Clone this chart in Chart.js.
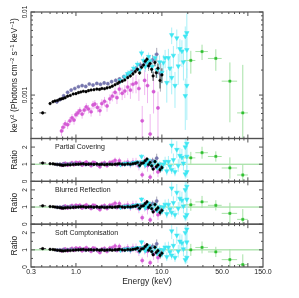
<!DOCTYPE html>
<html>
<head>
<meta charset="utf-8">
<script src="https://cdn.jsdelivr.net/npm/chart.js@4.4.1/dist/chart.umd.min.js"></script>
<style>
  html, body { margin: 0; padding: 0; background: #fff; }
  canvas { display: block; }
</style>
</head>
<body>
<canvas id="spec" width="299" height="298"></canvas>
<script>
// energies (keV), fluxes keV^2 F(E), errors and data/model ratios
const blackLowE = [0.41];
const blackLowLo = [0.375];
const blackLowHi = [0.45];
const blackLowF = [6.1e-4];
const blackLowErr = [2e-5];
const blackLowR = [1.07];

const blackE = [0.50,0.54,0.57,0.61,0.65,0.68,0.71,0.75,0.80,0.86,
  0.93,1.00,1.07,1.14,1.22,1.31,1.40,1.50,1.62,1.75,
  1.88,2.00,2.15,2.30,2.48,2.65,2.85,3.05,3.20,3.45,
  3.70,4.00,4.30,4.60,4.90,5.20,5.50,5.80,6.10,6.40,
  6.70,7.00,7.30,7.60,7.90,8.30,8.60,9.00,9.50,10.0];
const blackF = [7.9e-4,8.3e-4,8.5e-4,8.6e-4,8.9e-4,9.0e-4,9.1e-4,9.3e-4,9.7e-4,9.9e-4,
  1.03e-3,1.04e-3,1.07e-3,1.09e-3,1.11e-3,1.10e-3,1.13e-3,1.15e-3,1.16e-3,1.18e-3,
  1.17e-3,1.20e-3,1.19e-3,1.22e-3,1.24e-3,1.28e-3,1.33e-3,1.38e-3,1.43e-3,1.47e-3,
  1.52e-3,1.62e-3,1.70e-3,1.80e-3,1.92e-3,2.04e-3,1.85e-3,2.16e-3,2.30e-3,2.55e-3,
  2.70e-3,2.25e-3,2.40e-3,2.04e-3,1.70e-3,2.47e-3,1.86e-3,2.10e-3,1.50e-3,1.75e-3];
const blackErr = [2.5e-5,2.5e-5,2.5e-5,2.5e-5,2.5e-5,2.5e-5,2.5e-5,2.5e-5,2.5e-5,2.5e-5,
  2.5e-5,2.5e-5,2.5e-5,2.5e-5,2.5e-5,2.5e-5,2.5e-5,2.5e-5,2.5e-5,3e-5,
  3e-5,3e-5,3e-5,3e-5,3e-5,3.5e-5,3.5e-5,4e-5,4e-5,5e-5,
  5e-5,6e-5,7e-5,8e-5,9e-5,1e-4,1e-4,1.2e-4,1.3e-4,1.5e-4,
  1.6e-4,1.8e-4,2e-4,2e-4,2.2e-4,2.5e-4,2.5e-4,3e-4,3e-4,3.5e-4];
const blackR = [1.03,1.02,1.00,0.98,0.96,0.95,0.93,0.95,0.97,0.96,
  0.98,0.99,1.00,1.01,1.02,0.99,1.00,1.01,0.99,1.01,
  0.98,1.00,0.97,0.99,1.00,0.98,1.00,1.01,1.03,1.00,
  0.98,1.02,1.00,1.03,1.05,1.10,0.93,1.05,1.08,1.20,
  1.30,0.98,1.10,0.90,0.72,1.15,0.85,0.95,0.68,0.80];

const slateE = [0.60,0.65,0.72,0.80,0.88,0.97,1.07,1.18,1.30,1.43,
  1.58,1.75,1.93,2.13,2.35,2.60,2.90,3.20,3.60,4.00,
  4.50,5.00,5.60,6.30,7.00,7.80,8.70,9.60];
const slateF = [8.3e-4,8.8e-4,9.8e-4,1.08e-3,1.15e-3,1.20e-3,1.26e-3,1.30e-3,1.27e-3,1.36e-3,
  1.32e-3,1.38e-3,1.35e-3,1.40e-3,1.37e-3,1.45e-3,1.50e-3,1.56e-3,1.66e-3,1.76e-3,
  1.92e-3,2.10e-3,2.30e-3,2.45e-3,2.25e-3,2.65e-3,3.10e-3,1.80e-3];
const slateErr = [4e-5,4e-5,4e-5,4e-5,4e-5,4e-5,4e-5,5e-5,5e-5,5e-5,
  5e-5,5e-5,6e-5,6e-5,6e-5,7e-5,8e-5,9e-5,1e-4,1.1e-4,
  1.3e-4,1.5e-4,2e-4,2.5e-4,3e-4,4e-4,6e-4,7e-4];
const slateR = [0.99,1.00,1.02,1.01,1.03,1.02,1.01,1.03,0.98,1.02,
  0.99,1.01,0.98,1.02,0.99,1.01,1.00,1.02,1.03,1.01,
  1.04,1.06,1.10,1.15,1.00,1.20,1.35,0.80];

const magentaE = [0.68,0.71,0.75,0.80,0.85,0.90,0.95,1.00,1.05,1.11,
  1.18,1.25,1.32,1.40,1.50,1.58,1.66,1.78,1.90,2.00,
  2.15,2.30,2.48,2.65,2.85,3.00,3.20,3.45,3.70,4.00,
  4.30,4.60,5.00,5.40,5.90,6.30,6.80,7.30,8.00,9.00];
const magentaF = [3.7e-4,4.1e-4,4.5e-4,4.4e-4,4.9e-4,5.3e-4,5.0e-4,5.8e-4,6.1e-4,6.5e-4,
  5.9e-4,6.6e-4,7.2e-4,6.8e-4,6.3e-4,7.6e-4,7.8e-4,7.1e-4,6.5e-4,7.9e-4,
  8.4e-4,7.4e-4,9.0e-4,9.7e-4,1.08e-3,9.3e-4,1.18e-3,1.05e-3,1.12e-3,1.25e-3,
  1.15e-3,1.35e-3,1.40e-3,1.20e-3,4.9e-4,1.50e-3,1.30e-3,3.4e-4,1.10e-3,7.0e-4];
const magentaErr = [5e-5,5e-5,5e-5,5e-5,5.5e-5,6e-5,6e-5,6e-5,6.5e-5,7e-5,
  7e-5,7e-5,8e-5,8e-5,8e-5,9e-5,9e-5,9e-5,9e-5,1e-4,
  1.1e-4,1.1e-4,1.2e-4,1.3e-4,1.5e-4,1.5e-4,1.8e-4,1.8e-4,2e-4,2.5e-4,
  2.5e-4,3e-4,3.5e-4,3.5e-4,2.5e-4,5e-4,5e-4,2.5e-4,5e-4,4e-4];
const magentaR = [0.95,1.00,1.05,0.95,1.02,1.08,0.98,1.10,1.06,1.10,
  0.95,1.05,1.12,1.02,0.92,1.10,1.08,0.96,0.85,1.04,
  1.08,0.92,1.10,1.12,1.22,0.98,1.20,1.00,1.05,1.12,
  0.98,1.12,1.10,0.90,0.38,1.10,0.92,0.25,0.75,0.55];

const cyanE = [3.3,3.7,4.0,4.3,4.7,5.2,5.5,5.8,6.1,6.4,
  6.7,7.0,7.3,7.7,8.3,8.8,9.4,10.0,10.4,10.9,
  11.4,11.9,12.4,13.0,13.0,13.6,14.2,14.9,15.5,16.2,
  17.1,17.8,18.7,18.7,19.5,19.5,19.5];
const cyanF = [1.5e-3,1.65e-3,1.8e-3,1.87e-3,2.1e-3,2.34e-3,2.0e-3,3.2e-3,2.6e-3,2.2e-3,
  2.45e-3,2.9e-3,2.56e-3,2.2e-3,2.8e-3,2.0e-3,2.5e-3,1.87e-3,2.45e-3,2.8e-3,
  1.41e-3,2.8e-3,2.1e-3,5.3e-3,1.62e-3,3.0e-3,1.3e-3,4.86e-3,2.23e-3,3.6e-3,
  3.37e-3,2.5e-3,5.1e-3,9.8e-4,5.6e-3,3.5e-3,1.3e-3];
const cyanErr = [1.5e-4,1.5e-4,1.8e-4,1.8e-4,2e-4,2.2e-4,2.2e-4,3e-4,3e-4,3e-4,
  3e-4,3.5e-4,3.5e-4,3.5e-4,4e-4,4e-4,5e-4,5e-4,6e-4,7e-4,
  6e-4,8e-4,7e-4,1.2e-3,6e-4,9e-4,6e-4,1.3e-3,9e-4,1.1e-3,
  1.2e-3,1e-3,1.6e-3,6e-4,4e-3,1.5e-3,8e-4];
const cyanR = [0.98,1.02,1.05,1.00,1.08,1.12,0.92,1.45,1.15,0.95,
  1.05,1.22,1.05,0.90,1.12,0.80,1.00,0.75,1.00,1.15,
  0.60,1.15,0.88,2.10,0.68,1.25,0.55,1.85,0.92,1.50,
  1.40,1.05,2.00,0.42,2.20,1.45,0.55];

const greenE = [21.7, 29.3, 42.4, 61.8, 87.3];
const greenLo = [18, 24.5, 34.3, 49.6, 75];
const greenHi = [24.5, 34.3, 49.6, 75, 100];
const greenF = [2.61e-3, 3.34e-3, 2.76e-3, 1.47e-3, 6.1e-4];
const greenErr = [8e-4, 7e-4, 8e-4, 1e-3, 1.7e-3];
const greenPC = [1.37, 1.67, 1.45, 0.78, 0.37];
const greenBR = [1.13, 1.30, 1.10, 0.63, 0.28];
const greenSC = [1.00, 1.14, 0.88, 0.43, 0.14];
const greenRErr = [0.35, 0.35, 0.30, 0.62, 0.60];

const panelNames = ['Partial Covering', 'Blurred Reflection', 'Soft Comptonisation'];
const xTickVals = [0.3, 1, 10, 50, 150];
const xMajor = [1, 10, 100];
const xMinor = [0.4,0.5,0.6,0.7,0.8,0.9,2,3,4,5,6,7,8,9,20,30,40,50,60,70,80,90];
const fluxMajor = [1e-3, 1e-2];
const fluxMinor = [4e-4,5e-4,6e-4,7e-4,8e-4,9e-4,2e-3,3e-3,4e-3,5e-3,6e-3,7e-3,8e-3,9e-3];
const ratioMajor = [0, 1, 2];
const ratioMinor = [0.5, 1.5];

const FONT = 'Liberation Sans';
const ink = '#222';
const frame = '#505050';

const looks = {
  magenta: { color: '#d45ad4', bar: '#f0b6f0', shape: 'circle', r: 1.6, order: 5 },
  slate: { color: '#7676ae', bar: '#a9a9b6', shape: 'circle', r: 1.6, order: 4 },
  cyan: { color: '#3ee6f2', bar: '#a8f0f8', shape: 'triangle', rot: 180, r: 2.6, order: 3 },
  black: { color: '#000000', bar: '#444444', shape: 'circle', r: 1.3, order: 2 },
  green: { color: '#2fc02f', bar: '#a6e2a6', shape: 'rect', r: 1.6, order: 1 }
};

function pts(E, V, Err, lo, hi) {
  return E.map((e, i) => ({ x: e, y: V[i], e: Err[i], xl: lo ? lo[i] : null, xh: hi ? hi[i] : null }));
}

function set(kind, axis, data) {
  const k = looks[kind];
  return {
    data, yAxisID: axis, order: k.order, barColor: k.bar,
    pointStyle: k.shape, rotation: k.rot || 0, pointRadius: k.r,
    backgroundColor: k.color, borderColor: k.color, borderWidth: 0.5, showLine: false
  };
}

// ratio error bars follow the relative error of the flux points
const relErr = (R, F, Err) => R.map((r, i) => r * Err[i] / F[i]);

const datasets = [
  set('magenta', 'y', pts(magentaE, magentaF, magentaErr)),
  set('slate', 'y', pts(slateE, slateF, slateErr)),
  set('cyan', 'y', pts(cyanE, cyanF, cyanErr)),
  set('black', 'y', pts(blackE, blackF, blackErr)),
  set('black', 'y', pts(blackLowE, blackLowF, blackLowErr, blackLowLo, blackLowHi)),
  set('green', 'y', pts(greenE, greenF, greenErr, greenLo, greenHi))
];
[['r1', greenPC], ['r2', greenBR], ['r3', greenSC]].forEach(([axis, g]) => {
  datasets.push(
    set('magenta', axis, pts(magentaE, magentaR, relErr(magentaR, magentaF, magentaErr))),
    set('slate', axis, pts(slateE, slateR, relErr(slateR, slateF, slateErr))),
    set('cyan', axis, pts(cyanE, cyanR, relErr(cyanR, cyanF, cyanErr))),
    set('black', axis, pts(blackE, blackR, relErr(blackR, blackF, blackErr))),
    set('black', axis, pts(blackLowE, blackLowR, [0.04], blackLowLo, blackLowHi)),
    set('green', axis, pts(greenE, g, greenRErr, greenLo, greenHi))
  );
});

function rot(ctx, x, y, fn) {
  ctx.save(); ctx.translate(x, y); ctx.rotate(-Math.PI / 2); fn(); ctx.restore();
}

// text with superscripts, drawn centred at the origin
function richText(ctx, parts, size) {
  const sup = size * 0.68;
  let w = 0;
  parts.forEach(([t, s]) => { ctx.font = (s ? sup : size) + 'px ' + FONT; w += ctx.measureText(t).width; });
  let x = -w / 2;
  ctx.textAlign = 'left'; ctx.textBaseline = 'middle';
  parts.forEach(([t, s]) => {
    ctx.font = (s ? sup : size) + 'px ' + FONT;
    ctx.fillText(t, x, s ? -size * 0.35 : 0);
    x += ctx.measureText(t).width;
  });
}

const panelPlugin = {
  id: 'panels',
  beforeDatasetsDraw(chart) {
    const ctx = chart.ctx, a = chart.chartArea, xs = chart.scales.x;
    ctx.save();
    ['r1', 'r2', 'r3'].forEach(id => {
      const y = chart.scales[id].getPixelForValue(1);
      ctx.strokeStyle = '#8ed88e'; ctx.lineWidth = 1;
      ctx.beginPath(); ctx.moveTo(a.left, y); ctx.lineTo(a.right, y); ctx.stroke();
    });
    chart.data.datasets.forEach(ds => {
      const ys = chart.scales[ds.yAxisID];
      ctx.save();
      ctx.beginPath(); ctx.rect(a.left, ys.top, a.right - a.left, ys.bottom - ys.top); ctx.clip();
      ctx.strokeStyle = ds.barColor; ctx.lineWidth = 1;
      ds.data.forEach(p => {
        const px = xs.getPixelForValue(p.x), py = ys.getPixelForValue(p.y);
        ctx.beginPath();
        if (p.e) {
          const lo = p.y - p.e;
          const top = ys.getPixelForValue(p.y + p.e);
          const bot = lo > 0 ? ys.getPixelForValue(lo) : ys.bottom + 2;
          ctx.moveTo(px, top); ctx.lineTo(px, bot);
        }
        if (p.xl) {
          ctx.moveTo(xs.getPixelForValue(p.xl), py); ctx.lineTo(xs.getPixelForValue(p.xh), py);
        }
        ctx.stroke();
      });
      ctx.restore();
    });
    ctx.restore();
  },
  afterDraw(chart) {
    const ctx = chart.ctx, a = chart.chartArea, xs = chart.scales.x;
    const ids = ['y', 'r1', 'r2', 'r3'];
    ctx.save();
    ctx.strokeStyle = frame; ctx.lineWidth = 1.2;
    ids.forEach(id => {
      const s = chart.scales[id];
      ctx.strokeRect(a.left, s.top, a.right - a.left, s.bottom - s.top);
      ctx.lineWidth = 1;
      const xt = (v, len) => {
        const px = xs.getPixelForValue(v);
        ctx.beginPath();
        ctx.moveTo(px, s.top); ctx.lineTo(px, s.top + len);
        ctx.moveTo(px, s.bottom); ctx.lineTo(px, s.bottom - len);
        ctx.stroke();
      };
      xMinor.forEach(v => xt(v, 2));
      xMajor.forEach(v => xt(v, 4));
      const yt = (v, len) => {
        const py = s.getPixelForValue(v);
        ctx.beginPath();
        ctx.moveTo(a.left, py); ctx.lineTo(a.left + len, py);
        ctx.moveTo(a.right, py); ctx.lineTo(a.right - len, py);
        ctx.stroke();
      };
      if (id === 'y') {
        fluxMinor.forEach(v => yt(v, 2));
        fluxMajor.forEach(v => yt(v, 4));
      } else {
        ratioMinor.forEach(v => yt(v, 2));
        ratioMajor.forEach(v => yt(v, 4));
      }
      ctx.lineWidth = 1.2;
    });

    ctx.fillStyle = ink;
    const ys = chart.scales.y;
    fluxMajor.forEach(v => rot(ctx, 25, ys.getPixelForValue(v), () => {
      ctx.font = '6.5px ' + FONT; ctx.textAlign = 'center'; ctx.textBaseline = 'middle';
      ctx.fillText(v === 1e-2 ? '0.01' : '0.001', 0, 0);
    }));
    rot(ctx, 15, (ys.top + ys.bottom) / 2, () => richText(ctx, [
      ['keV', 0], ['2', 1], [' (Photons cm', 0], ['\u22122', 1], [' s', 0], ['\u22121', 1], [' keV', 0], ['\u22121', 1], [')', 0]
    ], 8.5));

    ['r1', 'r2', 'r3'].forEach((id, i) => {
      const s = chart.scales[id];
      ratioMajor.forEach(v => rot(ctx, 25, s.getPixelForValue(v), () => {
        ctx.font = '6.5px ' + FONT; ctx.textAlign = 'center'; ctx.textBaseline = 'middle';
        ctx.fillText(String(v), 0, 0);
      }));
      rot(ctx, 15, (s.top + s.bottom) / 2, () => {
        ctx.font = '8.5px ' + FONT; ctx.textAlign = 'center'; ctx.textBaseline = 'middle';
        ctx.fillText('Ratio', 0, 0);
      });
      ctx.font = '7px ' + FONT; ctx.textAlign = 'left'; ctx.textBaseline = 'middle';
      ctx.fillText(panelNames[i], 55, s.top + 9);
    });
    ctx.restore();
  }
};

function ratioAxis(weight) {
  return {
    type: 'linear', min: 0, max: 2.5, position: 'left', stack: 'panels', stackWeight: 43, weight,
    grid: { display: false }, border: { display: false }, ticks: { display: false },
    afterFit: s => { s.width = 31; }
  };
}

new Chart(document.getElementById('spec'), {
  type: 'scatter',
  data: { datasets },
  options: {
    responsive: false,
    animation: false,
    devicePixelRatio: 1,
    layout: { padding: { left: 0, right: 36, top: 12, bottom: 0 } },
    plugins: { legend: { display: false }, tooltip: { enabled: false } },
    scales: {
      x: {
        type: 'logarithmic', min: 0.3, max: 150, position: 'bottom',
        grid: { display: false, drawTicks: false, tickLength: 0 }, border: { display: false },
        afterBuildTicks: s => { s.ticks = xTickVals.map(v => ({ value: v })); },
        afterFit: s => { s.height = 31; },
        ticks: {
          autoSkip: false, maxRotation: 0, minRotation: 0, padding: 1, color: ink,
          font: { family: FONT, size: 7 }, callback: v => Number(v).toFixed(1)
        },
        title: {
          display: true, text: 'Energy (keV)', color: ink,
          font: { family: FONT, size: 8.5 }, padding: { top: 0, bottom: 11 }
        }
      },
      y: {
        type: 'logarithmic', min: 3e-4, max: 0.01, position: 'left', stack: 'panels', stackWeight: 127, weight: 4,
        grid: { display: false }, border: { display: false }, ticks: { display: false },
        afterFit: s => { s.width = 31; }
      },
      r1: ratioAxis(3),
      r2: ratioAxis(2),
      r3: ratioAxis(1)
    }
  },
  plugins: [panelPlugin]
});
</script>
</body>
</html>
